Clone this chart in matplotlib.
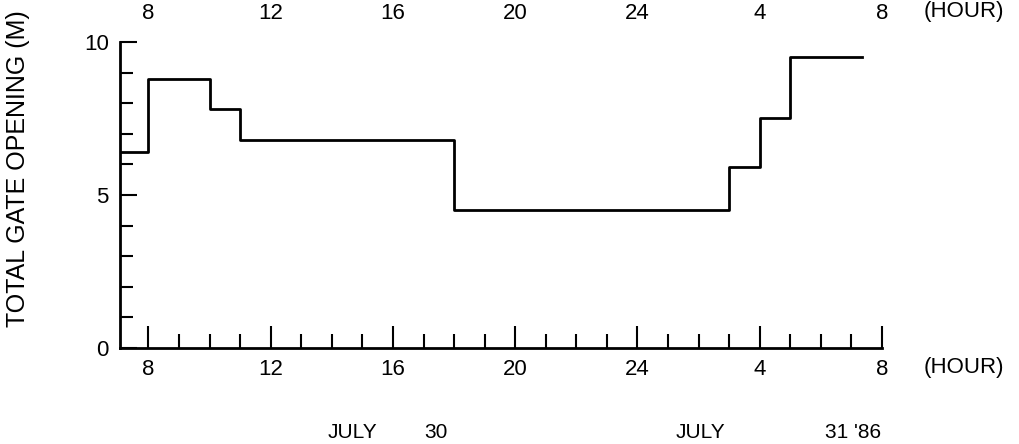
import matplotlib
matplotlib.use("Agg")
import matplotlib.pyplot as plt
from matplotlib.ticker import MultipleLocator, FixedLocator

plt.rcParams['font.family'] = ['Liberation Sans', 'DejaVu Sans']

# step changes of the total gate opening (hours counted from midnight July 30)
hours = [7.07, 8, 10, 11, 18, 27, 28, 29, 31.35]
opening = [6.4, 8.8, 7.8, 6.8, 4.5, 5.9, 7.5, 9.5, 9.5]

tick_hours = [8, 12, 16, 20, 24, 28, 32]
tick_labels = ['8', '12', '16', '20', '24', '4', '8']

W, H = 1019, 444
fig = plt.figure(figsize=(W / 100, H / 100), dpi=100)
# axes box in pixels: x 120..882, y 42..348
ax = fig.add_axes([120 / W, 1 - 348 / H, 762 / W, 306 / H])

ax.step(hours, opening, where='post', color='black', linewidth=2)

ax.set_xlim(7.07, 32)
ax.set_ylim(0, 10)

for side in ('top', 'right'):
    ax.spines[side].set_visible(False)
for side in ('left', 'bottom'):
    ax.spines[side].set_linewidth(2)

# x ticks point up from the baseline
ax.xaxis.set_major_locator(FixedLocator(tick_hours))
ax.set_xticklabels(tick_labels)
ax.xaxis.set_minor_locator(MultipleLocator(1))
ax.tick_params(axis='x', which='major', direction='in', length=16, width=1.5,
               pad=8, labelsize=16)
ax.tick_params(axis='x', which='minor', direction='in', length=10, width=1.5)

# y ticks point right from the spine
ax.yaxis.set_major_locator(FixedLocator([0, 5, 10]))
ax.yaxis.set_minor_locator(MultipleLocator(1))
ax.tick_params(axis='y', which='major', direction='in', length=12, width=1.5,
               pad=8, labelsize=16)
ax.tick_params(axis='y', which='minor', direction='in', length=9, width=1.5)

ax.set_ylabel('TOTAL GATE OPENING (M)', fontsize=18)
ax.yaxis.set_label_coords(-0.118, 0.585)

# hour labels repeated along the top
top = ax.secondary_xaxis('top')
top.set_xticks(tick_hours)
top.set_xticklabels(tick_labels)
top.spines['top'].set_visible(False)
top.tick_params(axis='x', length=0, pad=13, labelsize=16)

fig.text(964 / W, 1 - 12 / H, '(HOUR)', fontsize=16, ha='center', va='center')
fig.text(964 / W, 1 - 368 / H, '(HOUR)', fontsize=16, ha='center', va='center')

fig.text(352 / W, 1 - 432 / H, 'JULY', fontsize=15, ha='center', va='center')
fig.text(436 / W, 1 - 432 / H, '30', fontsize=15, ha='center', va='center')
fig.text(700 / W, 1 - 432 / H, 'JULY', fontsize=15, ha='center', va='center')
fig.text(853 / W, 1 - 432 / H, "31 '86", fontsize=15, ha='center', va='center')

fig.savefig('out.png', dpi=100)
plt.close(fig)
